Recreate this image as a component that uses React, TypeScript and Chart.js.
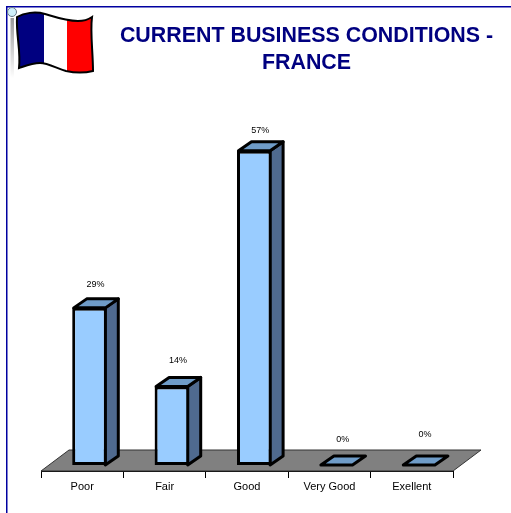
import React, { useEffect, useRef } from "react";
import { Chart, registerables } from "chart.js";

Chart.register(...registerables);

const categories = ["Poor", "Fair", "Good", "Very Good", "Exellent"];
const shares = [28.57, 14.29, 57.14, 0, 0];
const titleLines = ["CURRENT BUSINESS CONDITIONS -", "FRANCE"];
// Hand-placed label lift above each bar front, as in the source slide
const labelLift = [23, 25.5, 20, 25, 30];

const DEPTH_X = 13;
const DEPTH_Y = 9;
const BAR_SHIFT = 7.3;
const FLOOR_X = 28;
const FLOOR_Y = 21;
const FONT = '"Liberation Sans", Arial, sans-serif';

const slidePlugin = {
  id: "slide3d",
  beforeDatasetsDraw(chart: any) {
    const { ctx, chartArea } = chart;
    const { left, right, bottom } = chartArea;
    ctx.save();
    ctx.beginPath();
    ctx.moveTo(left, bottom);
    ctx.lineTo(right, bottom);
    ctx.lineTo(right + FLOOR_X, bottom - FLOOR_Y);
    ctx.lineTo(left + FLOOR_X, bottom - FLOOR_Y);
    ctx.closePath();
    ctx.fillStyle = "#808080";
    ctx.fill();
    ctx.strokeStyle = "#333333";
    ctx.lineWidth = 1;
    ctx.stroke();
    ctx.restore();
  },
  beforeDatasetDraw(chart: any, args: any) {
    const { ctx } = chart;
    const els = chart.getDatasetMeta(args.index).data;
    ctx.save();
    ctx.translate(BAR_SHIFT, 0);
    ctx.lineJoin = "round";
    ctx.lineWidth = 3;
    ctx.strokeStyle = "#000000";
    els.forEach((el: any) => {
      const half = el.width / 2 - 1.5;
      const l = el.x - half;
      const r = el.x + half;
      const t = Math.min(el.y, el.base);
      const b = el.base;
      // side
      if (b - t > 0.5) {
        ctx.beginPath();
        ctx.moveTo(r, t);
        ctx.lineTo(r + DEPTH_X, t - DEPTH_Y);
        ctx.lineTo(r + DEPTH_X, b - DEPTH_Y);
        ctx.lineTo(r, b);
        ctx.closePath();
        ctx.fillStyle = "#4F6A8F";
        ctx.fill();
        ctx.stroke();
      }
      // top
      ctx.beginPath();
      ctx.moveTo(l, t);
      ctx.lineTo(l + DEPTH_X, t - DEPTH_Y);
      ctx.lineTo(r + DEPTH_X, t - DEPTH_Y);
      ctx.lineTo(r, t);
      ctx.closePath();
      ctx.fillStyle = "#6F9CC8";
      ctx.fill();
      ctx.stroke();
    });
  },
  afterDatasetDraw(chart: any) {
    chart.ctx.restore();
  },
  afterDraw(chart: any) {
    const { ctx } = chart;
    const els = chart.getDatasetMeta(0).data;
    ctx.save();
    ctx.textAlign = "center";
    ctx.textBaseline = "middle";
    ctx.fillStyle = "#000000";
    ctx.font = `9px ${FONT}`;
    els.forEach((el: any, i: number) => {
      ctx.fillText(`${Math.round(shares[i])}%`, el.x + BAR_SHIFT + 6, el.y - labelLift[i]);
    });
    ctx.fillStyle = "#000080";
    ctx.font = `bold 21.4px ${FONT}`;
    titleLines.forEach((line, i) => ctx.fillText(line, 306.5, 36 + i * 27));
    ctx.restore();
  },
};

function Flag() {
  const outline =
    "M17 17 C24 13 35 11 45 14 C55 17 66 21 78 21 C84 21 89 19 92 17 C90 32 93 52 93 71 C85 73 75 73 66 71 C56 68 48 63 40 63 C32 63 25 66 19 68 C21 50 16 36 17 17 Z";
  return (
    <svg
      width={511}
      height={513}
      style={{ position: "absolute", left: 0, top: 0 }}
      aria-hidden="true"
    >
      <defs>
        <clipPath id="flagClip">
          <path d={outline} />
        </clipPath>
        <linearGradient id="pole" x1="0" y1="0" x2="0" y2="1">
          <stop offset="0" stopColor="#999999" />
          <stop offset="1" stopColor="#ffffff" />
        </linearGradient>
      </defs>
      <path d="M6.75 513 L6.75 6.75 L511 6.75" fill="none" stroke="#0000A0" strokeWidth={1.5} />
      <rect x={10.5} y={18} width={3.5} height={60} fill="url(#pole)" />
      <circle cx={12} cy={12} r={4.5} fill="#CFEFFA" stroke="#667788" strokeWidth={1} />
      <g clipPath="url(#flagClip)">
        <rect x={10} y={5} width={34} height={75} fill="#000080" />
        <rect x={44} y={5} width={23} height={75} fill="#FFFFFF" />
        <rect x={67} y={5} width={30} height={75} fill="#FF0000" />
      </g>
      <path d={outline} fill="none" stroke="#000000" strokeWidth={2} />
    </svg>
  );
}

export default function App() {
  const ref = useRef<HTMLCanvasElement>(null);

  useEffect(() => {
    if (!ref.current) return;
    const chart = new Chart(ref.current, {
      type: "bar",
      data: {
        labels: categories,
        datasets: [
          {
            data: shares,
            backgroundColor: "#99CCFF",
            borderColor: "#000000",
            borderWidth: 3,
            borderSkipped: false,
            categoryPercentage: 1,
            barPercentage: 0.42,
          },
        ],
      },
      plugins: [slidePlugin],
      options: {
        responsive: false,
        animation: false,
        layout: { padding: { left: 41, right: 58, top: 100, bottom: 0 } },
        plugins: { legend: { display: false }, tooltip: { enabled: false }, title: { display: false } },
        scales: {
          x: {
            afterFit: (s: any) => {
              s.height = 42;
            },
            grid: { drawOnChartArea: false, tickLength: 7, color: "#000000", lineWidth: 1 },
            border: { color: "#000000", width: 1 },
            ticks: {
              color: "#000000",
              padding: 2,
              maxRotation: 0,
              font: { family: FONT, size: 11 },
            },
          },
          y: { display: false, min: -1.09, max: 66.36 },
        },
      },
    });
    return () => chart.destroy();
  }, []);

  return (
    <div style={{ position: "absolute", left: 0, top: 0, width: 511, height: 513, background: "#fff", overflow: "hidden" }}>
      <canvas ref={ref} width={511} height={513} style={{ position: "absolute", left: 0, top: 0, display: "block" }} />
      <Flag />
    </div>
  );
}
